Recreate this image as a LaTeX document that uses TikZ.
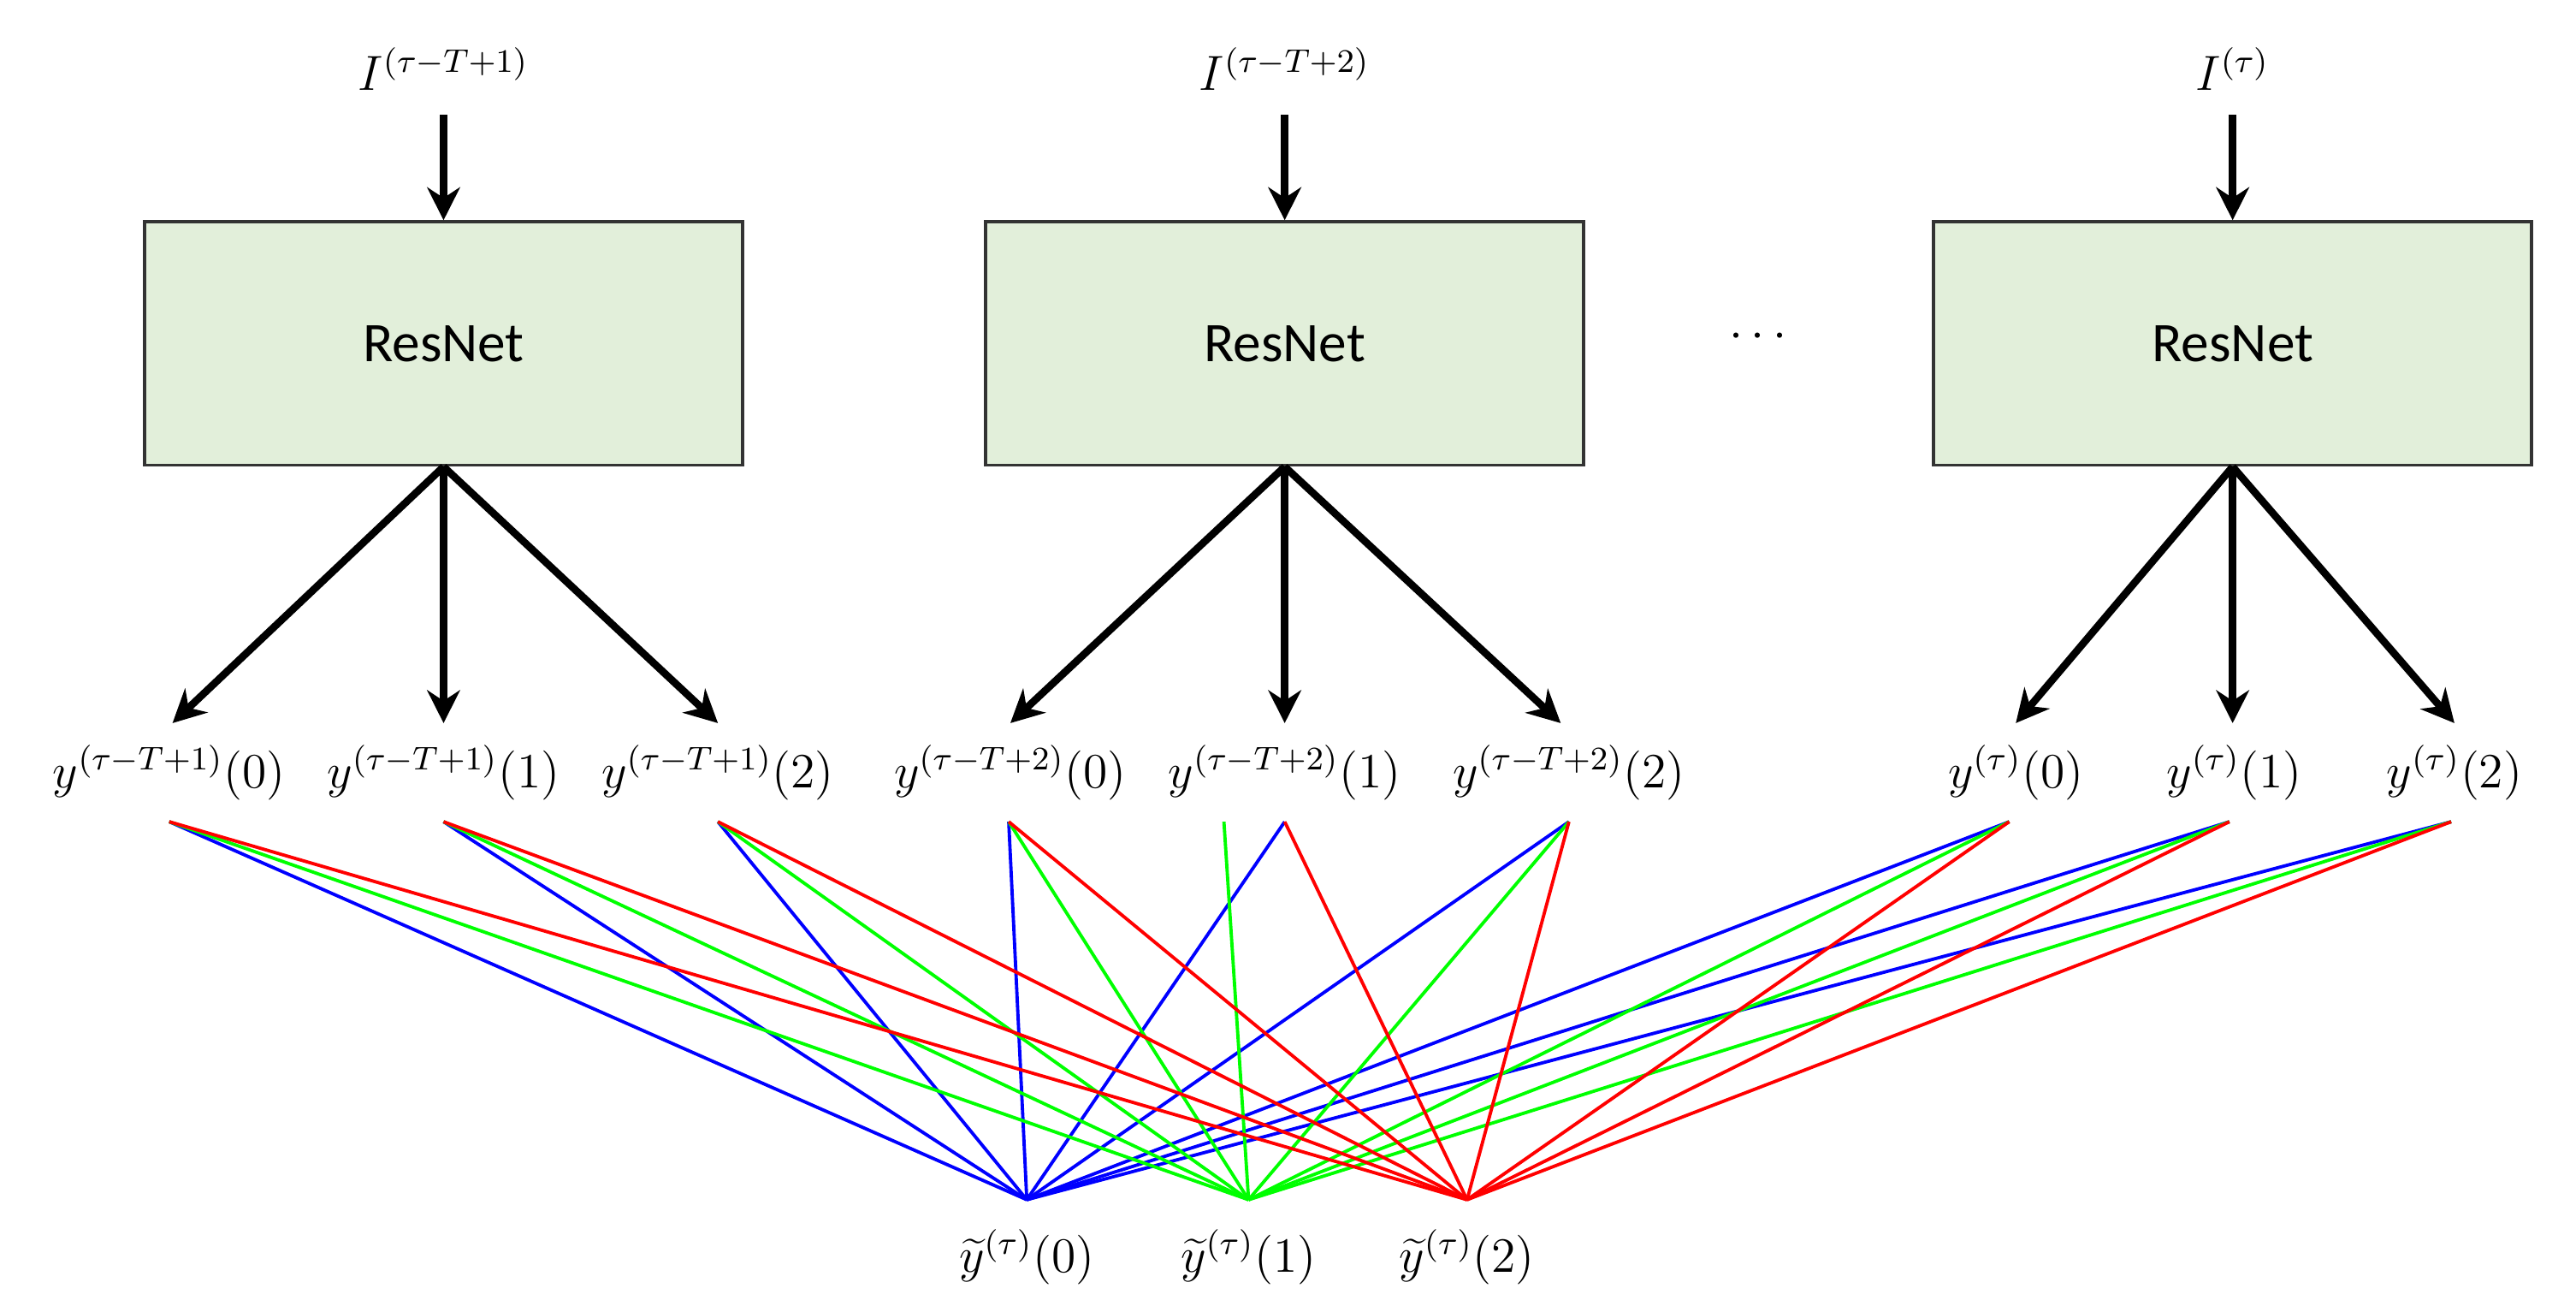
\documentclass[tikz,border=0pt]{standalone}
\usepackage{fontspec}
\setmainfont{Carlito}
\usetikzlibrary{arrows.meta}
\begin{document}
\begin{tikzpicture}[x=0.4pt,y=-0.4pt,
  box/.style={draw=black!80,line width=0.8pt,fill={rgb,255:red,226;green,239;blue,218},minimum width=145.6pt,minimum height=59.2pt,inner sep=0pt,font=\fontsize{13.6}{16}\selectfont},
  lab/.style={font=\fontsize{12}{14}\selectfont,inner sep=0pt},
  arr/.style={line width=1.8pt,-{Stealth[length=8pt,width=8pt]}},
  bl/.style={blue,line width=0.8pt},gr/.style={green,line width=0.8pt},rd/.style={red,line width=0.8pt}]
\useasboundingbox (0,0) rectangle (1568,798);
\node[box] (b1) at (270,209) {ResNet};
\node[box] (b2) at (782,209) {ResNet};
\node[box] (b3) at (1359,209) {ResNet};
\node[lab] (dots) at (1070,205) {$\mathbf{\cdots}$};
\node[lab] (i1) at (270,42) {$I^{(\tau-T+1)}$};
\node[lab] (i2) at (782,42) {$I^{(\tau-T+2)}$};
\node[lab] (i3) at (1359,42) {$I^{(\tau)}$};
\foreach \k in {1,2,3}{\coordinate (it\k) at ([yshift=25.6pt]b\k.north); \draw[arr] (it\k) -- (b\k.north);}
% y labels
\node[lab] (y10) at (103,470) {$y^{(\tau-T+1)}\!\left(0\right)$};
\node[lab] (y11) at (270,470) {$y^{(\tau-T+1)}\!\left(1\right)$};
\node[lab] (y12) at (437,470) {$y^{(\tau-T+1)}\!\left(2\right)$};
\node[lab] (y20) at (615,470) {$y^{(\tau-T+2)}\!\left(0\right)$};
\node[lab] (y21) at (782,470) {$y^{(\tau-T+2)}\!\left(1\right)$};
\node[lab] (y22) at (955,470) {$y^{(\tau-T+2)}\!\left(2\right)$};
\node[lab] (y30) at (1227,470) {$y^{(\tau)}\!\left(0\right)$};
\node[lab] (y31) at (1360,470) {$y^{(\tau)}\!\left(1\right)$};
\node[lab] (y32) at (1494,470) {$y^{(\tau)}\!\left(2\right)$};
\coordinate (a10) at (105,440); \coordinate (a11) at (270,440); \coordinate (a12) at (437,440);
\coordinate (a20) at (615,440); \coordinate (a21) at (782,440); \coordinate (a22) at (950,440);
\coordinate (a30) at (1227,440); \coordinate (a31) at (1359,440); \coordinate (a32) at (1494,440);
\foreach \k in {1,2,3}{\foreach \j in {0,1,2}{\draw[arr] (b\k.south) -- (a\k\j);}}
% tops
\coordinate (t10) at (103,500); \coordinate (t11) at (270,500); \coordinate (t12) at (437,500);
\coordinate (t20) at (614,500); \coordinate (t21) at (782,500); \coordinate (t22) at (955,500);
\coordinate (t30) at (1223,500); \coordinate (t31) at (1357,500); \coordinate (t32) at (1492,500);
\coordinate (t21g) at (745,500);
% bottoms
\coordinate (z0) at (625,730); \coordinate (z1) at (760,730); \coordinate (z2) at (893,730);
\foreach \t in {t10,t11,t12,t20,t21,t22,t30,t31,t32}{\draw[bl] (\t) -- (z0);}
\foreach \t in {t10,t11,t12,t20,t21g,t22,t30,t31,t32}{\draw[gr] (\t) -- (z1);}
\foreach \t in {t10,t11,t12,t20,t21,t22,t30,t31,t32}{\draw[rd] (\t) -- (z2);}
\node[lab] (w0) at (625,765) {$\widetilde{y}^{(\tau)}\!\left(0\right)$};
\node[lab] (w1) at (760,765) {$\widetilde{y}^{(\tau)}\!\left(1\right)$};
\node[lab] (w2) at (893,765) {$\widetilde{y}^{(\tau)}\!\left(2\right)$};
\end{tikzpicture}
\end{document}
